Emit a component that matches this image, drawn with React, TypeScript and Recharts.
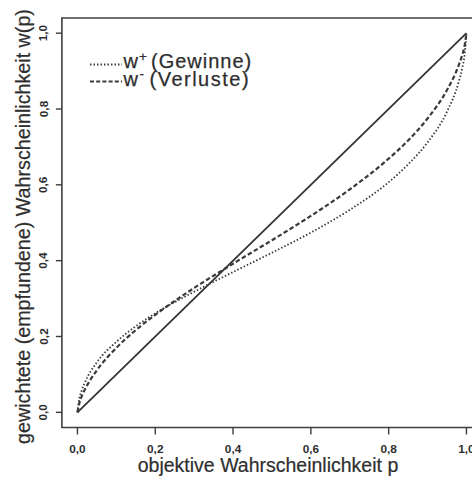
import React from 'react';
import { LineChart, Line, XAxis, YAxis, ReferenceArea, Legend, Label } from 'recharts';

const pValues = [0, 0.005, 0.01, 0.02, 0.05, 0.1, 0.15, 0.2, 0.3, 0.4, 0.5, 0.6, 0.7, 0.8, 0.85, 0.9, 0.95, 0.98, 0.99, 0.995, 1];
const wPlus = [0, 0.037, 0.055, 0.081, 0.132, 0.186, 0.227, 0.261, 0.318, 0.37, 0.421, 0.474, 0.534, 0.607, 0.654, 0.712, 0.793, 0.871, 0.912, 0.94, 1];
const wMinus = [0, 0.025, 0.04, 0.062, 0.111, 0.17, 0.217, 0.257, 0.328, 0.392, 0.454, 0.518, 0.588, 0.669, 0.717, 0.775, 0.85, 0.915, 0.945, 0.965, 1];
const diagP = [0, 1];
const diagW = [0, 1];
const tickValues = [0, 0.2, 0.4, 0.6, 0.8, 1.0];
const xTitle = 'objektive Wahrscheinlichkeit p';
const yTitle = 'gewichtete (empfundene) Wahrscheinlichkeit w(p)';
const legendPlus = { base: 'w', sup: '+', rest: '(Gewinne)' };
const legendMinus = { base: 'w', sup: '-', rest: '(Verluste)' };

const curveData = pValues.map((p, i) => ({ p, wPlus: wPlus[i], wMinus: wMinus[i] }));
const diagData = diagP.map((p, i) => ({ p, diag: diagW[i] }));

const FONT = '"Liberation Sans", Arial, Helvetica, sans-serif';
const INK = '#2e2e2e';
const fmt = (v: number) => v.toFixed(1).replace('.', ',');

const XTick = (props: any) => {
  const { x, payload } = props;
  return (
    <text x={x} y={452.5} textAnchor="middle" fontSize={11.8} fontWeight="bold" fill={INK} fontFamily={FONT}>
      {fmt(payload.value)}
    </text>
  );
};

const YTick = (props: any) => {
  const { y, payload } = props;
  const bx = 47.5;
  return (
    <text x={bx} y={y} transform={`rotate(-90, ${bx}, ${y})`} textAnchor="middle" fontSize={11.8} fontWeight="bold" fill={INK} fontFamily={FONT}>
      {fmt(payload.value)}
    </text>
  );
};

const legendText = { fontSize: 20, fill: INK, stroke: INK, strokeWidth: 0.25, fontFamily: FONT } as const;

const LegendContent = () => (
  <svg width={280} height={100} style={{ display: 'block' }}>
    <line x1={90} x2={122} y1={64.5} y2={64.5} stroke="#3a3a3a" strokeWidth={1.8} strokeDasharray="1.5 2" />
    <text x={123.5} y={67.5} {...legendText}>{legendPlus.base}</text>
    <text x={139} y={61} {...legendText} fontSize={13.5}>{legendPlus.sup}</text>
    <text x={151} y={67.5} {...legendText} letterSpacing={1}>{legendPlus.rest}</text>
    <line x1={90} x2={122} y1={81.5} y2={81.5} stroke="#3a3a3a" strokeWidth={2.1} strokeDasharray="4 2.2" />
    <text x={123.5} y={85.5} {...legendText}>{legendMinus.base}</text>
    <text x={139.5} y={78} {...legendText} fontSize={13.5}>{legendMinus.sup}</text>
    <text x={149.5} y={85.5} {...legendText} letterSpacing={1.5}>{legendMinus.rest}</text>
  </svg>
);

export default function App() {
  return (
    <div style={{ position: 'absolute', left: 0, top: 0, width: 472, height: 479, overflow: 'hidden', background: '#fff' }}>
      <LineChart width={492} height={479} margin={{ top: 18, right: 10, left: 0, bottom: 0 }} data={curveData}>
        <XAxis
          dataKey="p"
          type="number"
          domain={[-0.04, 1.04]}
          ticks={tickValues}
          allowDataOverflow
          height={51.5}
          axisLine={false}
          tickSize={7}
          tickLine={{ stroke: '#3a3a3a', strokeWidth: 1.4 }}
          tick={<XTick />}
          interval={0}
        >
          <Label
            content={() => (
              <text x={268} y={472} textAnchor="middle" fontSize={19.5} fill={INK} stroke={INK} strokeWidth={0.2} fontFamily={FONT}>
                {xTitle}
              </text>
            )}
          />
        </XAxis>
        <YAxis
          type="number"
          domain={[-0.04, 1.04]}
          ticks={tickValues}
          allowDataOverflow
          width={61.9}
          axisLine={false}
          tickSize={6}
          tickLine={{ stroke: '#3a3a3a', strokeWidth: 1.4 }}
          tick={<YTick />}
          interval={0}
        >
          <Label
            content={() => (
              <text x={30} y={226.5} transform="rotate(-90, 30, 226.5)" textAnchor="middle" fontSize={19.7} fill={INK} stroke={INK} strokeWidth={0.2} fontFamily={FONT}>
                {yTitle}
              </text>
            )}
          />
        </YAxis>
        <ReferenceArea x1={-0.04} x2={1.04} y1={-0.04} y2={1.04} fill="none" fillOpacity={0} stroke="#3f3f3f" strokeWidth={1.6} ifOverflow="visible" />
        <Line data={diagData} dataKey="diag" type="linear" stroke="#333" strokeWidth={1.8} dot={false} activeDot={false} isAnimationActive={false} legendType="none" />
        <Line dataKey="wMinus" type="monotone" stroke="#3a3a3a" strokeWidth={2.2} strokeDasharray="4.5 2.5" dot={false} activeDot={false} isAnimationActive={false} />
        <Line dataKey="wPlus" type="monotone" stroke="#3a3a3a" strokeWidth={1.8} strokeDasharray="1.5 2" dot={false} activeDot={false} isAnimationActive={false} />
        <Legend
          layout="vertical"
          align="center"
          verticalAlign="middle"
          content={<LegendContent />}
          wrapperStyle={{ position: 'absolute', left: 0, top: 0, width: 280, height: 100 }}
        />
      </LineChart>
    </div>
  );
}
